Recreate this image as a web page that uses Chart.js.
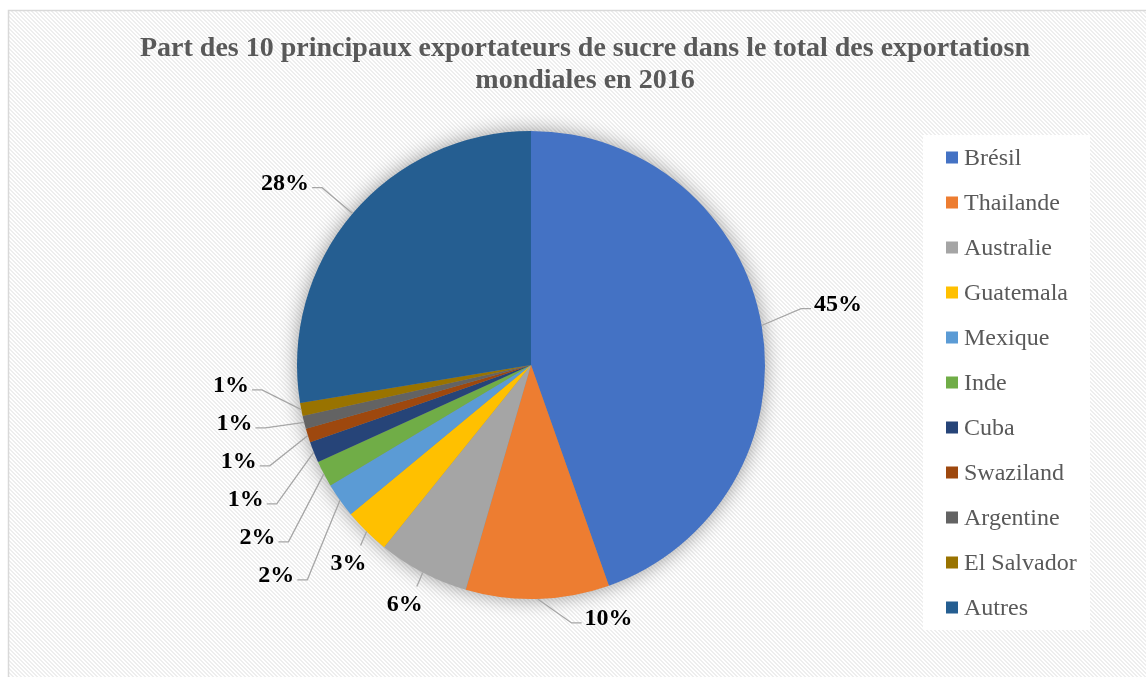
<!DOCTYPE html>
<html><head><meta charset="utf-8">
<script src="https://cdn.jsdelivr.net/npm/chart.js@4.4.0/dist/chart.umd.min.js"></script>
<style>html,body{margin:0;padding:0;background:#fff;overflow:hidden}canvas{display:block}</style>
</head><body>
<canvas id="c" width="1146" height="677"></canvas>
<script>
const categories = ['Brésil','Thailande','Australie','Guatemala','Mexique','Inde','Cuba','Swaziland','Argentine','El Salvador','Autres'];
const shares = [44.6, 9.9, 6.3, 3.2, 2.4, 1.8, 1.45, 0.95, 0.9, 0.9, 27.6];
const sliceColors = ['#4472C4','#ED7D31','#A5A5A5','#FFC000','#5B9BD5','#70AD47','#264478','#9E480E','#636363','#997300','#255E91'];
const titleLines = ['Part des 10 principaux exportateurs de sucre dans le total des exportatiosn','mondiales en 2016'];

const SERIF = "'Liberation Serif','Times New Roman',serif";

function makeHatch(ctx){
  const c = document.createElement('canvas'); c.width = 4; c.height = 4;
  const g = c.getContext('2d');
  g.fillStyle = '#ffffff'; g.fillRect(0,0,4,4);
  g.fillStyle = '#eeeeee';
  for (let y=0;y<4;y++) for (let x=0;x<4;x++) { if (((x - y) % 4 + 4) % 4 < 2) g.fillRect(x,y,1,1); }
  return ctx.createPattern(c,'repeat');
}

const backgroundPlugin = {
  id: 'bgFrame',
  beforeDraw(chart){
    const ctx = chart.ctx;
    ctx.save();
    ctx.fillStyle = '#ffffff'; ctx.fillRect(0,0,chart.width,chart.height);
    ctx.fillStyle = makeHatch(ctx);
    ctx.fillRect(9,11,chart.width,chart.height);
    ctx.strokeStyle = '#d9d9d9'; ctx.lineWidth = 1.5;
    ctx.strokeRect(8.5,10.5,chart.width+10,chart.height+10);
    ctx.restore();
  }
};

const shadowPlugin = {
  id: 'pieShadow',
  beforeDatasetsDraw(chart){
    const arc = chart.getDatasetMeta(0).data[0];
    if (!arc) return;
    const ctx = chart.ctx;
    ctx.save();
    ctx.shadowColor = 'rgba(0,0,0,0.42)';
    ctx.shadowBlur = 20;
    ctx.fillStyle = '#888';
    ctx.beginPath(); ctx.arc(arc.x, arc.y, arc.outerRadius - 1, 0, Math.PI*2); ctx.fill();
    ctx.restore();
  }
};

const titleLegendPlugin = {
  id: 'titleLegend',
  afterDraw(chart){
    const ctx = chart.ctx;
    ctx.save();
    ctx.fillStyle = '#595959';
    ctx.font = "bold 28px " + SERIF;
    ctx.textAlign = 'center'; ctx.textBaseline = 'middle';
    titleLines.forEach((t,i)=> ctx.fillText(t, 585, 49 + i*32));
    const lx = 923, ly = 135, lw = 167, lh = 495;
    ctx.fillStyle = '#ffffff'; ctx.fillRect(lx, ly, lw, lh);
    const step = lh / categories.length;
    ctx.font = "24px " + SERIF;
    ctx.textAlign = 'left';
    categories.forEach((name,i)=>{
      const cy = ly + (i + 0.5) * step;
      ctx.fillStyle = sliceColors[i];
      ctx.fillRect(946, cy - 6, 12, 12);
      ctx.fillStyle = '#595959';
      ctx.fillText(name, 964, cy + 1);
    });
    ctx.restore();
  }
};

const labelPlugin = {
  id: 'leaderLabels',
  afterDatasetsDraw(chart){
    const ctx = chart.ctx;
    const meta = chart.getDatasetMeta(0);
    const vals = chart.data.datasets[0].data;
    ctx.save();
    ctx.font = "bold 24px " + SERIF;
    const items = meta.data.map((arc,i)=>{
      const mid = (arc.startAngle + arc.endAngle)/2;
      const ux = Math.cos(mid), uy = Math.sin(mid);
      const R = arc.outerRadius;
      const text = Math.round(vals[i]) + '%';
      const w = ctx.measureText(text).width;
      const ax = arc.x + R*ux, ay = arc.y + R*uy;
      let mode, ex, ey;
      if (uy > 0.65 && ux < -0.2) { mode = 'drop'; ex = ax - 6; ey = ay + 14; }
      else {
        mode = ux < 0 ? 'left' : 'right';
        if (Math.abs(uy) < 0.6) { ex = arc.x + (R+40)*ux; ey = arc.y + (R+100)*uy; }
        else if (uy < 0) { ex = arc.x + (R+40)*ux; ey = arc.y + (R+40)*uy; }
        else { ex = ax + 34; ey = ay + 24; }
      }
      return {i, text, w, ax, ay, ex, ey, mode};
    });
    const gap = 38;
    ['left','right'].forEach(side=>{
      const list = items.filter(it=>it.mode===side).sort((a,b)=>a.ey-b.ey);
      let clusters = list.map(it=>({items:[it], mean: it.ey}));
      let merged = true;
      while (merged){
        merged = false;
        for (let k=1;k<clusters.length;k++){
          const A = clusters[k-1], B = clusters[k];
          const aBottom = A.mean + (A.items.length-1)*gap/2;
          const bTop = B.mean - (B.items.length-1)*gap/2;
          if (bTop - aBottom < gap){
            const all = A.items.concat(B.items);
            const m = all.reduce((s,it)=>s+it.ey,0)/all.length;
            clusters.splice(k-1,2,{items:all, mean:m});
            merged = true; break;
          }
        }
      }
      clusters.forEach(c=>{
        const top = c.mean - (c.items.length-1)*gap/2;
        c.items.forEach((it,j)=>{ it.ey = top + j*gap; });
      });
    });
    ctx.strokeStyle = '#a6a6a6'; ctx.lineWidth = 1.3;
    ctx.fillStyle = '#000';
    items.forEach(it=>{
      ctx.beginPath();
      ctx.moveTo(it.ax, it.ay);
      ctx.lineTo(it.ex, it.ey);
      if (it.mode==='left') ctx.lineTo(it.ex-10, it.ey);
      if (it.mode==='right') ctx.lineTo(it.ex+10, it.ey);
      ctx.stroke();
      ctx.textBaseline = 'middle';
      if (it.mode==='left'){ ctx.textAlign='right'; ctx.fillText(it.text, it.ex-13, it.ey-4); }
      else if (it.mode==='right'){ ctx.textAlign='left'; ctx.fillText(it.text, it.ex+13, it.ey-4); }
      else { ctx.textAlign='center'; ctx.fillText(it.text, it.ex-12, it.ey+18); }
    });
    ctx.restore();
  }
};

new Chart(document.getElementById('c'), {
  type: 'pie',
  data: {
    labels: categories,
    datasets: [{ data: shares, backgroundColor: sliceColors, borderWidth: 0 }]
  },
  options: {
    responsive: false,
    animation: false,
    layout: { padding: { left: 297, right: 381, top: 131, bottom: 78 } },
    plugins: { legend: { display: false }, title: { display: false }, tooltip: { enabled: false } }
  },
  plugins: [backgroundPlugin, shadowPlugin, labelPlugin, titleLegendPlugin]
});
</script>
</body></html>
